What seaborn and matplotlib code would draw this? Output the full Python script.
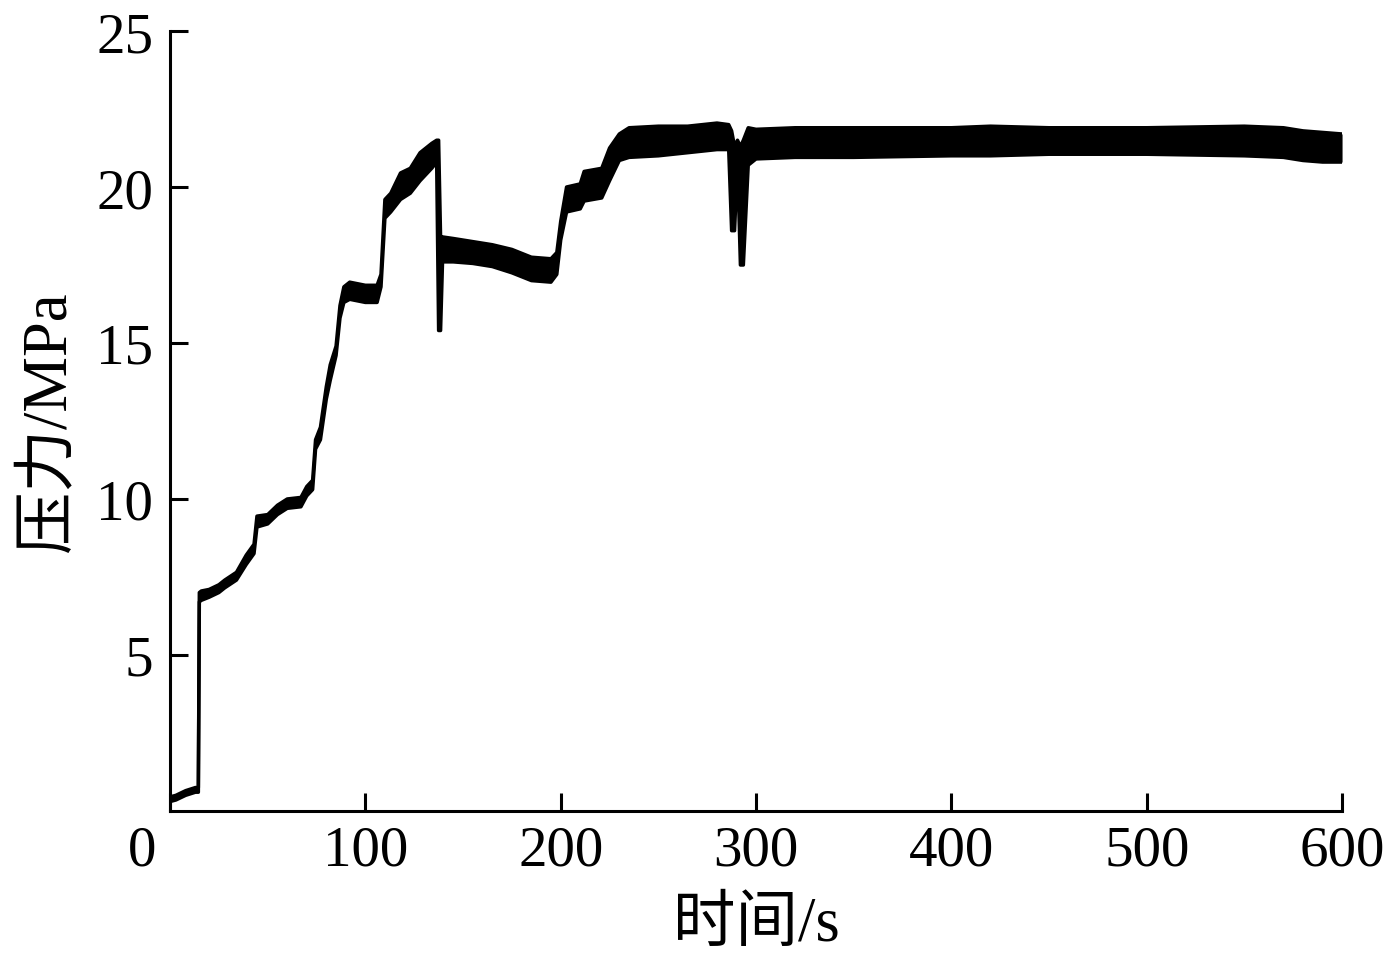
import numpy as np
import pandas as pd
import matplotlib
matplotlib.use("Agg")
import matplotlib.pyplot as plt
import matplotlib.transforms as mtransforms
import seaborn as sns

# pressure trace: time (s), lower and upper edge of the noisy band (MPa)
time = [0, 3, 8, 13, 14.5, 15.0, 16, 20, 25, 28, 34, 39, 43, 44.5, 50, 55, 60, 67, 70, 73,
        74.5, 77, 80, 82, 85, 87, 89, 92, 100, 106, 108, 110, 113, 118, 123, 128, 134,
        136.5, 137.5, 138.5, 139.5, 145, 155, 165, 175, 185, 195, 198, 200, 203, 210,
        212, 221, 225, 230, 235, 250, 265, 280, 286, 287.5, 289, 290.5, 292, 293.5, 296,
        300, 320, 350, 400, 420, 450, 500, 550, 570, 580, 590, 600]
p_low = [0.3, 0.35, 0.5, 0.6, 0.6, 6.7, 6.75, 6.85, 7.0, 7.15, 7.4, 7.9, 8.25, 9.1, 9.2, 9.5,
         9.7, 9.75, 10.1, 10.3, 11.6, 11.9, 13.2, 13.8, 14.6, 15.8, 16.3, 16.4, 16.3, 16.3,
         16.8, 19.0, 19.2, 19.6, 19.8, 20.2, 20.6, 20.8, 15.4, 15.4, 17.6, 17.6, 17.55,
         17.45, 17.25, 17.0, 16.95, 17.2, 18.3, 19.2, 19.3, 19.55, 19.65, 20.2, 20.85,
         20.95, 21.0, 21.1, 21.2, 21.2, 18.6, 18.6, 20.8, 17.5, 17.5, 20.7, 20.9, 20.95,
         20.95, 21.0, 21.0, 21.05, 21.05, 21.0, 20.95, 20.85, 20.8, 20.8]
p_high = [0.45, 0.5, 0.65, 0.75, 0.75, 7.0, 7.05, 7.1, 7.25, 7.4, 7.65, 8.2, 8.55, 9.45, 9.5,
          9.8, 10.0, 10.05, 10.4, 10.6, 11.9, 12.3, 13.6, 14.3, 14.9, 16.2, 16.8, 16.95,
          16.85, 16.85, 17.2, 19.6, 19.8, 20.45, 20.6, 21.1, 21.4, 21.5, 21.5, 18.4, 18.4,
          18.35, 18.25, 18.15, 18.0, 17.75, 17.7, 17.9, 18.9, 20.0, 20.1, 20.5, 20.6,
          21.25, 21.7, 21.9, 21.95, 21.95, 22.05, 22.0, 21.8, 21.3, 21.5, 21.3, 21.5, 21.9,
          21.85, 21.9, 21.9, 21.9, 21.95, 21.9, 21.9, 21.95, 21.9, 21.8, 21.75, 21.7]

x_ticks = [0, 100, 200, 300, 400, 500, 600]
y_ticks = [5, 10, 15, 20, 25]

df = pd.DataFrame({"time": time, "low": p_low, "high": p_high})

sns.set_style("ticks")
fonts = ["Liberation Serif", "Noto Sans CJK SC"]
plt.rcParams["font.family"] = fonts
plt.rcParams["axes.linewidth"] = 2.2
plt.rcParams["axes.edgecolor"] = "black"
plt.rcParams["text.color"] = "black"
plt.rcParams["axes.labelcolor"] = "black"

fig = plt.figure(figsize=(13.88, 9.62), dpi=100)
ax = fig.add_axes([0.1225, 0.156, 0.8444, 0.8107])

ax.fill_between(df["time"], df["low"], df["high"], color="black", lw=0)
sns.lineplot(data=df, x="time", y="low", color="black", lw=2.5, ax=ax)
sns.lineplot(data=df, x="time", y="high", color="black", lw=2.5, ax=ax)

ax.set_xlim(0, 600)
ax.set_ylim(0, 25)
ax.set_xticks(x_ticks)
ax.set_yticks(y_ticks)
ax.tick_params(direction="in", length=13, width=2.2, labelsize=41, colors="black")
ax.tick_params(axis="y", pad=12)
ax.tick_params(axis="x", pad=10)
sns.despine(ax=ax)

ax.set_xlabel("时间/s", fontsize=45, labelpad=14)
ax.set_ylabel("压力/MPa", fontsize=45, labelpad=12)

# the "0" label sits left of the corner in the original
zero = ax.xaxis.get_major_ticks()[0].label1
zero.set_transform(zero.get_transform() + mtransforms.ScaledTranslation(-0.28, 0, fig.dpi_scale_trans))

fig.savefig("out.png", dpi=100)
